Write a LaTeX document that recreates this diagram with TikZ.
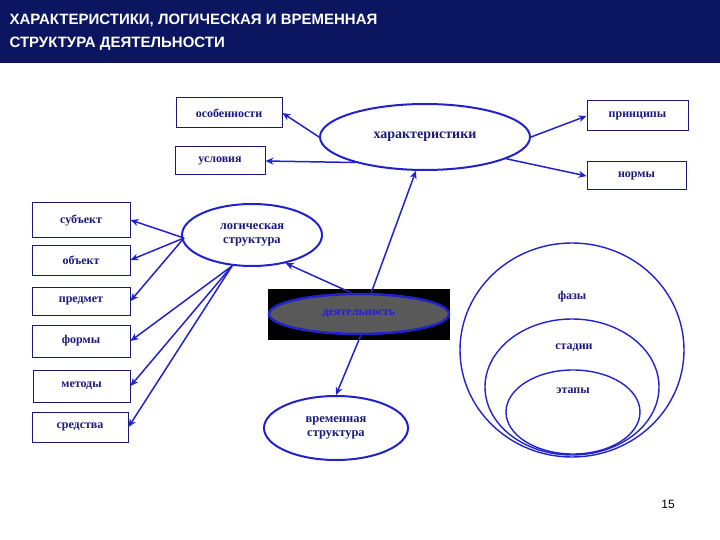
\documentclass[tikz,border=0pt]{standalone}
\usepackage{fontspec}
\setmainfont{Liberation Serif}
\newfontfamily\hdr{Liberation Sans}
\usetikzlibrary{shapes.geometric,arrows.meta}
\definecolor{navy}{HTML}{0B1560}
\definecolor{tblue}{HTML}{1A1A7A}
\definecolor{lblue}{HTML}{2222CC}
\tikzset{
 bx/.style={draw=tblue,line width=1pt,fill=white,text=tblue,font=\bfseries\fontsize{12}{14}\selectfont,inner sep=0},
 el/.style={ellipse,draw=lblue,line width=2pt,text=tblue,font=\bfseries\fontsize{12.5}{14}\selectfont,align=center,inner sep=0},
 ar/.style={draw=lblue,line width=1.5pt,-{Stealth[length=8pt,width=7pt]}},
 lbl/.style={text=tblue,font=\bfseries\fontsize{12}{14}\selectfont}
}
\begin{document}
\begin{tikzpicture}[x=1pt,y=-1pt]
\useasboundingbox (0,0) rectangle (720,540);
\fill[navy] (0,0) rectangle (720,63);
\node[anchor=west,text=white,font=\hdr\bfseries\fontsize{15}{18}\selectfont] (h1) at (6,20) {ХАРАКТЕРИСТИКИ, ЛОГИЧЕСКАЯ И ВРЕМЕННАЯ};
\node[anchor=west,text=white,font=\hdr\bfseries\fontsize{15}{18}\selectfont] (h2) at (6,44) {СТРУКТУРА ДЕЯТЕЛЬНОСТИ};
% boxes
\node[bx,minimum width=106pt,minimum height=30pt] (os) at (229,113) {особенности};
\node[bx,minimum width=90pt,minimum height=28pt] (us) at (220,161) {условия};
\node[bx,minimum width=101pt,minimum height=30pt] (pr) at (637.5,116) {принципы};
\node[bx,minimum width=99pt,minimum height=28pt] (no) at (636.5,176) {нормы};
\node[bx,minimum width=98pt,minimum height=34pt] (sb) at (81,220) {субъект};
\node[bx,minimum width=98pt,minimum height=30pt] (ob) at (81,260) {объект};
\node[bx,minimum width=98pt,minimum height=28pt] (pd) at (81,301) {предмет};
\node[bx,minimum width=98pt,minimum height=32pt] (fo) at (81,341) {формы};
\node[bx,minimum width=97pt,minimum height=32pt] (me) at (81.5,386) {методы};
\node[bx,minimum width=96pt,minimum height=30pt] (sr) at (80,427) {средства};
% ellipses
\node[el,minimum width=210pt,minimum height=66pt,font=\bfseries\fontsize{14}{16}\selectfont] (ha) at (425,137) {характеристики};
\node[el,minimum width=140pt,minimum height=62pt] (lo) at (252,235) {логическая\\структура};
\node[el,minimum width=144pt,minimum height=64pt] (vr) at (336,428) {временная\\структура};
% center
\fill[black] (268,289) rectangle (450,340);
\node[ellipse,draw=lblue,line width=2.5pt,fill=gray!70!black,minimum width=180pt,minimum height=40pt,text=lblue,font=\bfseries\fontsize{12}{14}\selectfont,inner sep=0] (de) at (359,314) {деятельность};
% nested ellipses
\draw[lblue,line width=1.4pt] (572,350) ellipse (112 and 107);
\draw[lblue,line width=1.4pt] (572,387) ellipse (87 and 68);
\draw[lblue,line width=1.4pt] (573,412) ellipse (67 and 42);
\node[lbl] (fa) at (572,297) {фазы};
\node[lbl] (st) at (574,348) {стадии};
\node[lbl] (et) at (573,391) {этапы};
\node[font=\hdr\fontsize{12}{14}\selectfont,text=black] (pn) at (668,504) {15};
% arrows
\draw[ar] (ha.west) -- (os.east);
\draw[ar] (ha.200) -- (us.east);
\draw[ar] (ha.east) -- (pr.west);
\draw[ar] (ha.345) -- (no.west);
\draw[ar] (de.60) -- (ha.255);
\draw[ar] (de.110) -- (lo.320);
\draw[ar] (de.275) -- (vr.north);
\coordinate (lw) at (184,238);
\coordinate (lb) at (232,266);
\draw[ar] (lw) -- (sb.east);
\draw[ar] (lw) -- (ob.east);
\draw[ar] (lw) -- (pd.east);
\draw[ar] (lb) -- (fo.east);
\draw[ar] (lb) -- (me.east);
\draw[ar] (lb) -- (sr.east);
\end{tikzpicture}
\end{document}
